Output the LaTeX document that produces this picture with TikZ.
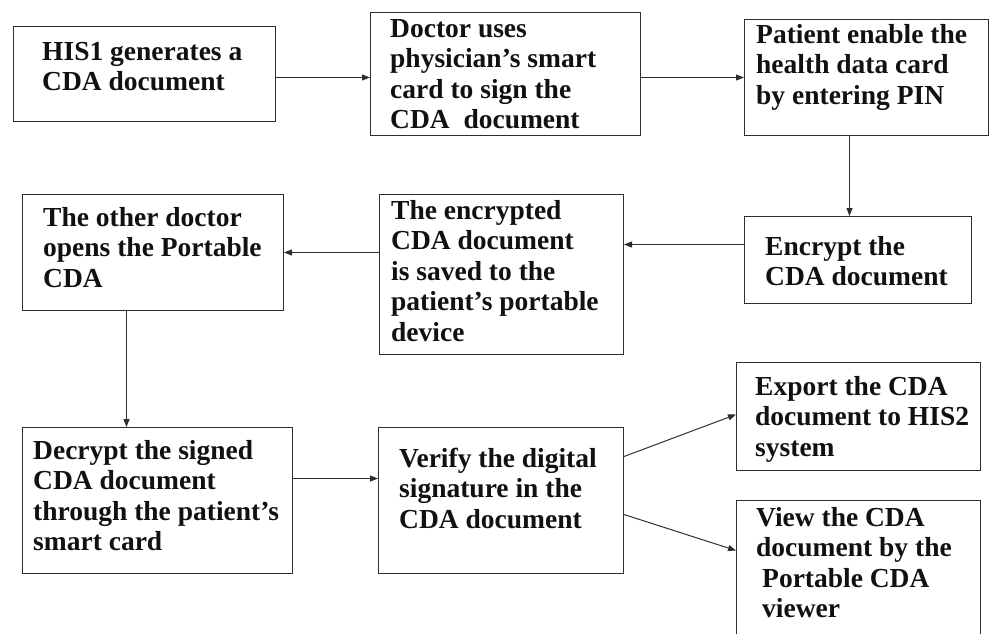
\documentclass[tikz,border=0pt]{standalone}
\usepackage{fontspec}
\setmainfont{Liberation Serif}
\usetikzlibrary{arrows.meta,calc}
\definecolor{linec}{HTML}{2E2E2E}
\definecolor{textc}{HTML}{111111}
\tikzset{
  box/.style={draw=linec, line width=1pt, rectangle, inner sep=0pt, anchor=north west, fill=none},
  txt/.style={anchor=north west, inner sep=0pt, align=left, text=textc,
     font=\bfseries\fontsize{27.5}{30.5}\selectfont},
  arr/.style={draw=linec, line width=1pt, -{Triangle[length=8pt,width=6pt]}}
}
\newcommand{\fl}{\rule{0pt}{20pt}}
\begin{document}
\begin{tikzpicture}[x=1pt,y=-1pt]
\useasboundingbox (0,0) rectangle (989,634);
\clip (0,0) rectangle (989,634);
% boxes
\node[box, minimum width=262pt, minimum height=95pt]  (b1)  at (13,26)  {};
\node[box, minimum width=270pt, minimum height=123pt] (b2)  at (370,12) {};
\node[box, minimum width=244pt, minimum height=116pt] (b3)  at (744,19) {};
\node[box, minimum width=227pt, minimum height=87pt]  (b4)  at (744,216) {};
\node[box, minimum width=244pt, minimum height=160pt] (b5)  at (379,194) {};
\node[box, minimum width=261pt, minimum height=116pt] (b6)  at (22,194) {};
\node[box, minimum width=270pt, minimum height=146pt] (b7)  at (22,427) {};
\node[box, minimum width=245pt, minimum height=146pt] (b8)  at (378,427) {};
\node[box, minimum width=244pt, minimum height=108pt] (b9)  at (736,362) {};
\node[box, minimum width=244pt, minimum height=160pt] (b10) at (736,500) {};
% texts
\node[txt] (t1)  at (42,40)  {\fl HIS1 generates a\\CDA document};
\node[txt] (t2)  at (390,17) {\fl Doctor uses\\physician’s smart\\card to sign the\\CDA\ \ document};
\node[txt] (t3)  at (756,23) {\fl Patient enable the\\health data card\\by entering PIN};
\node[txt] (t4)  at (765,235) {\fl Encrypt the\\CDA document};
\node[txt] (t5)  at (391,199) {\fl The encrypted\\CDA document\\is saved to the\\patient’s portable\\device};
\node[txt] (t6)  at (43,206) {\fl The other doctor\\opens the Portable\\CDA};
\node[txt] (t7)  at (33,439) {\fl Decrypt the signed\\CDA document\\through the patient’s\\smart card};
\node[txt] (t8)  at (399,447) {\fl Verify the digital\\signature in the\\CDA document};
\node[txt] (t9)  at (755,375) {\fl Export the CDA\\document to HIS2\\system};
\node[txt] (t10) at (756,506) {\fl View the CDA\\document by the\\\hspace{6pt}Portable CDA\\\hspace{6pt}viewer};
% connectors
\draw[arr] ([yshift=-3.5pt]b1.east) -- ([yshift=-3.5pt]b1.east -| b2.west);
\draw[arr] ([yshift=-3.5pt]b2.east) -- ([yshift=-3.5pt]b2.east -| b3.west);
\draw[arr] ([xshift=-17pt]b3.south) -- ([xshift=-17pt]b3.south |- b4.north);
\draw[arr] ([yshift=15.5pt]b4.west) -- ([yshift=15.5pt]b4.west -| b5.east);
\draw[arr] ([yshift=22pt]b5.west) -- ([yshift=22pt]b5.west -| b6.east);
\draw[arr] ([xshift=-26.5pt]b6.south) -- ([xshift=-26.5pt]b6.south |- b7.north);
\draw[arr] ([yshift=22pt]b7.east) -- ([yshift=22pt]b7.east -| b8.west);
\draw[arr] ([yshift=44pt]b8.east) -- ([yshift=2pt]b9.west);
\draw[arr] ([yshift=-14pt]b8.east) -- ([yshift=30pt]b10.west);
\end{tikzpicture}
\end{document}
